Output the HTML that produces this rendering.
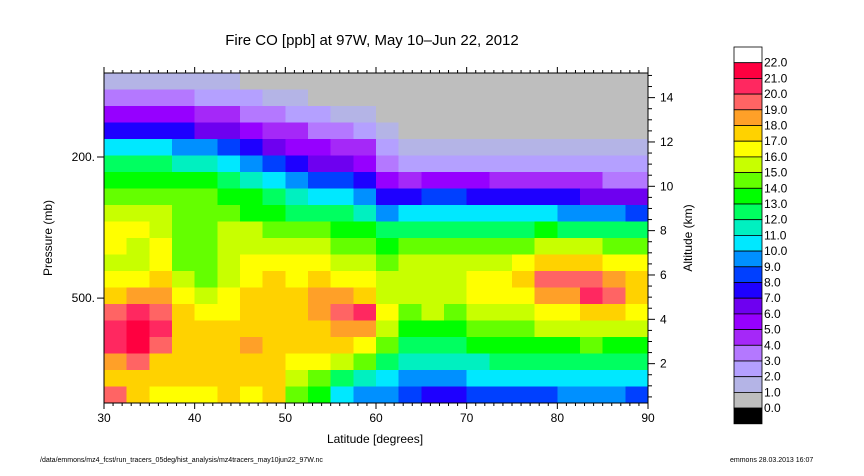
<!DOCTYPE html>
<html><head><meta charset="utf-8"><style>
body{margin:0;background:#fff;}
svg text{font-family:"Liberation Sans",sans-serif;fill:#000;}
</style></head><body>
<svg id="chart" width="864" height="471" viewBox="0 0 864 471">
<text x="372" y="45" font-size="15" text-anchor="middle">Fire CO [ppb] at 97W, May 10–Jun 22, 2012</text>
<g id="cells" shape-rendering="crispEdges"></g>
<g id="axes"></g>
<g id="cbar"></g>
<text x="375" y="443" font-size="12" text-anchor="middle">Latitude [degrees]</text>
<text transform="translate(52,238) rotate(-90)" font-size="12" text-anchor="middle">Pressure (mb)</text>
<text transform="translate(692,238) rotate(-90)" font-size="12" text-anchor="middle">Altitude (km)</text>
<text x="40" y="462" font-size="7">/data/emmons/mz4_fcst/run_tracers_05deg/hist_analysis/mz4tracers_may10jun22_97W.nc</text>
<text x="730" y="462" font-size="7">emmons 28.03.2013 16:07</text>
</svg>
<script>
const lats=[31.25,33.75,36.25,38.75,41.25,43.75,46.25,48.75,51.25,53.75,56.25,58.75,61.25,63.75,66.25,68.75,71.25,73.75,76.25,78.75,81.25,83.75,86.25,88.75];
// each column: CO level from top (low pressure) to bottom (surface), 20 rows
const colVals=[
[1,3,5,7,10,12,13,14,15,16,16,15,16,17,19,20,20,18,17,19],
[1,3,5,7,10,12,13,14,15,16,15,15,16,18,20,21,21,19,17,17],
[1,3,5,7,10,12,13,14,15,15,16,16,17,18,19,20,19,17,17,16],
[1,3,5,7,9,11,13,14,14,14,14,14,15,16,17,17,17,17,17,16],
[1,2,4,6,9,11,13,14,14,14,14,14,14,15,16,17,17,17,17,16],
[1,2,4,6,8,10,12,13,14,15,15,15,15,16,16,17,17,17,17,17],
[0,2,3,5,7,9,11,13,13,15,15,16,16,17,17,17,18,17,17,16],
[0,1,3,4,6,8,10,12,13,14,15,16,17,17,17,17,17,17,17,17],
[0,1,2,4,5,7,9,11,12,14,15,16,16,17,17,17,17,16,15,14],
[0,0,2,3,5,6,8,10,12,14,15,16,17,18,18,17,17,16,14,13],
[0,0,1,3,4,6,8,10,12,13,14,15,16,18,19,18,17,15,12,10],
[0,0,1,2,4,5,7,9,11,13,14,15,16,17,20,18,16,14,11,9],
[0,0,0,1,2,3,5,7,9,12,13,14,15,15,16,15,14,12,10,9],
[0,0,0,0,1,2,4,7,10,12,14,15,15,15,14,13,12,11,9,8],
[0,0,0,0,1,2,5,8,10,12,14,15,15,15,15,13,12,11,9,7],
[0,0,0,0,1,2,5,8,10,12,14,15,15,15,14,13,12,11,9,7],
[0,0,0,0,1,2,5,7,10,12,14,15,16,16,15,14,13,11,10,8],
[0,0,0,0,1,2,4,7,10,12,14,15,16,16,15,14,13,12,10,8],
[0,0,0,0,1,2,4,7,10,12,14,16,17,16,15,14,13,12,10,8],
[0,0,0,0,1,2,4,7,10,13,15,17,19,18,16,15,13,12,10,8],
[0,0,0,0,1,2,4,7,9,12,15,17,19,18,16,15,13,12,10,9],
[0,0,0,0,1,2,4,6,9,12,15,17,19,20,17,15,14,12,10,9],
[0,0,0,0,1,2,3,6,9,12,14,16,18,19,17,15,13,12,10,9],
[0,0,0,0,1,2,3,6,8,12,14,16,17,17,16,15,13,12,10,8]];
const levelLabels=["22.0","21.0","20.0","19.0","18.0","17.0","16.0","15.0","14.0","13.0","12.0","11.0","10.0","9.0","8.0","7.0","6.0","5.0","4.0","3.0","2.0","1.0","0.0"];
const xTicks=[30,40,50,60,70,80,90];
const pTicks=[200,500];
const kmTicks=[2,4,6,8,10,12,14];
const colors=["#bebebe","#b4b4e6","#b4a0ff","#b478ff","#a528f8","#9600ff","#6e00f0","#1e00ff","#0040ff","#0090ff","#00e8ff","#00f0c0","#00ff60","#00ff00","#64ff00","#c8ff00","#ffff00","#ffd200","#ffa028","#ff6464","#ff2860","#ff0040","#ffffff"];
const NS="http://www.w3.org/2000/svg";
const X0=104,X1=648,Y0=73,Y1=403;
const xs=v=>X0+(v-30)/60*(X1-X0);
const ps=p=>157+Math.log(p/200)*154;
const ks=k=>408-k*22.17;
const rowH=(Y1-Y0)/20, colW=(X1-X0)/lats.length;
function mk(tag,at,parent){const e=document.createElementNS(NS,tag);for(const k in at)e.setAttribute(k,at[k]);parent.appendChild(e);return e;}
const cells=document.getElementById('cells');
lats.forEach((lat,i)=>{colVals[i].forEach((v,j)=>{
  const r=mk('rect',{x:xs(lat)-colW/2,y:Y0+j*rowH,width:colW+0.6,height:rowH+0.6,fill:colors[Math.max(0,Math.min(22,Math.floor(v)))]},cells);
  
  
});});
const ax=document.getElementById('axes');
mk('rect',{x:X0,y:Y0,width:X1-X0,height:Y1-Y0,fill:'none',stroke:'#000','stroke-width':1},ax);
for(let l=30;l<=90;l++){const x=xs(l),L=(l%10===0)?6:3;
  mk('line',{x1:x,x2:x,y1:Y1,y2:Y1+L,stroke:'#000'},ax);
  mk('line',{x1:x,x2:x,y1:Y0,y2:Y0-L,stroke:'#000'},ax);}
xTicks.forEach(t=>{const e=mk('text',{x:xs(t),y:Y1+19,'font-size':12,'text-anchor':'middle'},ax);e.textContent=t;
  
  });
pTicks.forEach(p=>{const y=ps(p);mk('line',{x1:X0-7,x2:X0,y1:y,y2:y,stroke:'#000'},ax);
  const e=mk('text',{x:X0-9,y:y+4,'font-size':12,'text-anchor':'end'},ax);e.textContent=p+'.';
  
  });
for(let k=0.5;k<=15;k+=1){const y=ks(k);if(y>Y0&&y<Y1)mk('line',{x1:X1,x2:X1+4,y1:y,y2:y,stroke:'#000'},ax);}
for(let k=1;k<=15;k+=1){const y=ks(k);if(y>Y0&&y<Y1)mk('line',{x1:X1,x2:X1+(k%2===0?7:4),y1:y,y2:y,stroke:'#000'},ax);}
kmTicks.forEach(k=>{const e=mk('text',{x:X1+12,y:ks(k)+4,'font-size':12},ax);e.textContent=k;
  
  });
const cb=document.getElementById('cbar');
const bh=15.7;
for(let i=0;i<24;i++){const y=47+i*bh;const f=i<23?colors[22-i]:'#000';
  const r=mk('rect',{x:734,y:y,width:28,height:bh,fill:f,stroke:'#000','stroke-width':0.8},cb);
  
  }
levelLabels.forEach((t,i)=>{const e=mk('text',{x:764,y:47+(i+1)*bh+4,'font-size':12},cb);e.textContent=t;
  
  });
</script>
</body></html>
